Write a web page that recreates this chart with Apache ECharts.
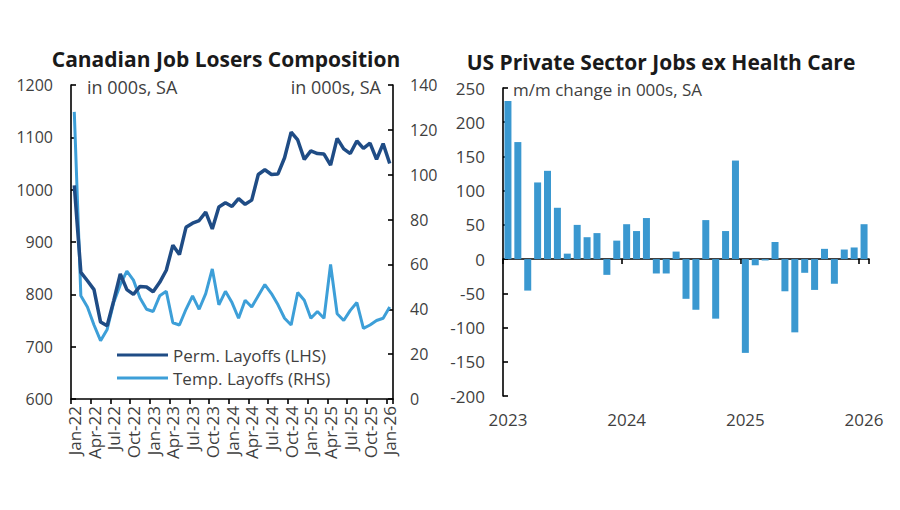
<!DOCTYPE html>
<html><head><meta charset="utf-8">
<script src="https://cdn.jsdelivr.net/npm/echarts@6/dist/echarts.min.js"></script>
<style>html,body{margin:0;padding:0;background:#fff}#c{width:900px;height:510px}</style>
</head><body><div id="c"></div>
<script>
// ---- Canadian job losers (monthly, 000s, SA) ----
const caMonths = ['Jan-22','Feb-22','Mar-22','Apr-22','May-22','Jun-22','Jul-22','Aug-22','Sep-22','Oct-22','Nov-22','Dec-22',
  'Jan-23','Feb-23','Mar-23','Apr-23','May-23','Jun-23','Jul-23','Aug-23','Sep-23','Oct-23','Nov-23','Dec-23',
  'Jan-24','Feb-24','Mar-24','Apr-24','May-24','Jun-24','Jul-24','Aug-24','Sep-24','Oct-24','Nov-24','Dec-24',
  'Jan-25','Feb-25','Mar-25','Apr-25','May-25','Jun-25','Jul-25','Aug-25','Sep-25','Oct-25','Nov-25','Dec-25','Jan-26'];
const permLayoffs = [1008, 842, 826, 809, 747, 740, 788, 839, 809, 800, 815, 814, 805, 823, 846, 894, 876, 928, 936, 941, 957, 925, 967, 975, 968, 983, 972, 980,
  1029, 1038, 1029, 1030, 1061, 1110, 1095, 1058, 1074, 1069, 1068, 1047, 1098, 1078, 1069, 1093, 1079, 1089, 1058, 1088, 1050];
const tempLayoffs = [128, 46, 41, 33, 26, 31, 43, 51, 57, 53, 45, 40, 39, 46, 48, 34, 33, 40, 46, 40, 47, 58, 42, 48, 43, 36, 44, 41,
  46, 51, 47, 42, 36, 33, 47.5, 44, 36, 39, 36, 60, 38, 35, 39.5, 43, 31.5, 33, 35, 36, 41];

// ---- US private sector jobs ex health care (m/m change, 000s, SA) ----
const usMonths = ['Jan-23','Feb-23','Mar-23','Apr-23','May-23','Jun-23','Jul-23','Aug-23','Sep-23','Oct-23','Nov-23','Dec-23',
  'Jan-24','Feb-24','Mar-24','Apr-24','May-24','Jun-24','Jul-24','Aug-24','Sep-24','Oct-24','Nov-24','Dec-24',
  'Jan-25','Feb-25','Mar-25','Apr-25','May-25','Jun-25','Jul-25','Aug-25','Sep-25','Oct-25','Nov-25','Dec-25','Jan-26'];
const usJobsExHealth = [231, 171, -46, 112, 129, 75, 8, 50, 32, 38, -23, 27, 51, 41, 60, -21, -21, 11, -58, -74, 57, -87, 41, 144,
  -137, -9, -2, 25, -47, -107, -20, -45, 15, -36, 14, 17, 51];
const usYearLabels = ['2023', '2024', '2025', '2026'];

const FONT = 'Open Sans';
const TXT = '#3f3f3f';
const DARK = '#1f4c85';
const LIGHT = '#3d9fd8';
const BAR = '#3a98d0';

const chart = echarts.init(document.getElementById('c'), null, {renderer: 'svg'});
const line = {show: true, onZero: false, lineStyle: {color: '#000', width: 1.6}};
const tickIn = {show: true, inside: true, length: 5, lineStyle: {color: '#000', width: 1.6}};
const plain = function (v) { return String(v); };

chart.setOption({
  animation: false,
  textStyle: {fontFamily: FONT},
  grid: [
    {left: 71, top: 85, width: 322, height: 314},
    {left: 503, top: 88, width: 366, height: 308}
  ],
  xAxis: [
    {gridIndex: 0, type: 'category', data: caMonths, boundaryGap: true,
     axisLine: line,
     axisTick: {show: true, interval: 2, length: 5, lineStyle: {color: '#000', width: 1.6}},
     axisLabel: {interval: 2, rotate: 90, fontSize: 17, color: TXT, margin: 7, fontFamily: FONT}},
    {gridIndex: 1, type: 'category', data: usMonths, boundaryGap: true,
     axisLine: {show: true, onZero: true, lineStyle: {color: '#000', width: 1.6}},
     axisTick: {show: true, interval: function (i) { return i % 12 === 0; }, length: 5, lineStyle: {color: '#000', width: 1.6}},
     axisLabel: {show: false}},
    {gridIndex: 1, type: 'category', data: usMonths, boundaryGap: true, position: 'bottom',
     axisLine: {show: false, onZero: false}, axisTick: {show: false},
     axisLabel: {interval: function (i) { return i % 12 === 0; },
       formatter: function (v, i) { return usYearLabels[Math.round(i / 12)]; },
       fontSize: 17, color: TXT, margin: 15, fontFamily: FONT}}
  ],
  yAxis: [
    {gridIndex: 0, type: 'value', min: 600, max: 1200, interval: 100, position: 'left',
     axisLine: line, axisTick: tickIn, splitLine: {show: false},
     axisLabel: {fontSize: 16, color: TXT, margin: 18, fontFamily: FONT, formatter: plain}},
    {gridIndex: 0, type: 'value', min: 0, max: 140, interval: 20, position: 'right',
     axisLine: line, axisTick: tickIn, splitLine: {show: false},
     axisLabel: {fontSize: 16, color: TXT, margin: 17, fontFamily: FONT, formatter: plain}},
    {gridIndex: 1, type: 'value', min: -200, max: 250, interval: 50, position: 'left',
     axisLine: line, axisTick: tickIn, splitLine: {show: false},
     axisLabel: {fontSize: 17, color: TXT, margin: 18, fontFamily: FONT, formatter: plain}}
  ],
  legend: {
    orient: 'vertical', left: 117, top: 346, padding: 0, itemWidth: 51, itemHeight: 3, itemGap: 5, icon: 'rect',
    textStyle: {fontSize: 17, color: TXT, lineHeight: 18, fontFamily: FONT},
    data: ['Perm. Layoffs (LHS)', 'Temp. Layoffs (RHS)']
  },
  series: [
    {name: 'Perm. Layoffs (LHS)', type: 'line', xAxisIndex: 0, yAxisIndex: 0, data: permLayoffs,
     showSymbol: false, symbol: 'none', color: DARK, lineStyle: {width: 3.5, color: DARK}, z: 3},
    {name: 'Temp. Layoffs (RHS)', type: 'line', xAxisIndex: 0, yAxisIndex: 1, data: tempLayoffs,
     showSymbol: false, symbol: 'none', color: LIGHT, lineStyle: {width: 3, color: LIGHT}, z: 2},
    {name: 'US Private ex Health', type: 'bar', xAxisIndex: 1, yAxisIndex: 2, data: usJobsExHealth,
     barWidth: 7, itemStyle: {color: BAR}}
  ],
  graphic: [
    {type: 'text', style: {text: 'Canadian Job Losers Composition', x: 226, y: 59,
      fill: '#1a1a1a', font: 'bold 21px "Open Sans"', textAlign: 'center', textVerticalAlign: 'middle'}},
    {type: 'text', style: {text: 'in 000s, SA', x: 87, y: 87, fill: TXT, font: '18px "Open Sans"',
      textAlign: 'left', textVerticalAlign: 'middle'}},
    {type: 'text', style: {text: 'in 000s, SA', x: 381, y: 87, fill: TXT, font: '18px "Open Sans"',
      textAlign: 'right', textVerticalAlign: 'middle'}},
    {type: 'text', style: {text: 'US Private Sector Jobs ex Health Care', x: 661, y: 62,
      fill: '#1a1a1a', font: 'bold 21px "Open Sans"', textAlign: 'center', textVerticalAlign: 'middle'}},
    {type: 'text', style: {text: 'm/m change in 000s, SA', x: 513, y: 89, fill: TXT, font: '17px "Open Sans"',
      textAlign: 'left', textVerticalAlign: 'middle'}}
  ]
});
</script></body></html>
